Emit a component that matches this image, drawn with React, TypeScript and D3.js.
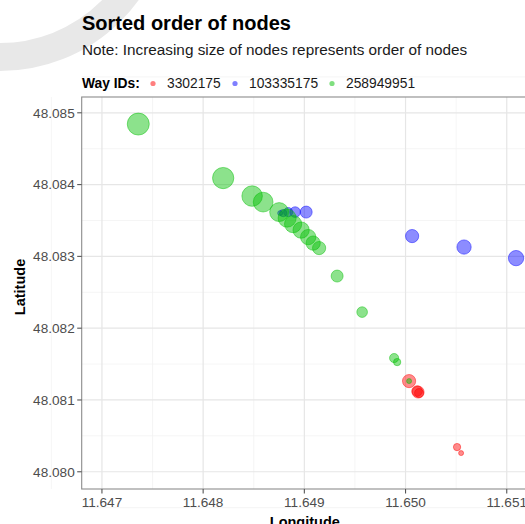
import * as d3 from 'd3';

// way ids and point colours
const wayIds = ['3302175', '103335175', '258949951'];
const wayColors = ['#ff0000', '#0000ff', '#00bf00'];

// nodes of each way, listed in sorted order (size = position in list)
const redLon = [11.650549, 11.650509, 11.650134, 11.650114, 11.650124, 11.650035];
const redLat = [48.08026, 48.080344, 48.081096, 48.081124, 48.08111, 48.081263];

const blueLon = [11.648761, 11.648791, 11.64884, 11.648909, 11.649018, 11.650065, 11.650578, 11.651092];
const blueLat = [48.083603, 48.083603, 48.083617, 48.083617, 48.083617, 48.083283, 48.08313, 48.082976];

const greenLon = [
  11.650035, 11.649917, 11.649887, 11.649571, 11.649324, 11.649146, 11.649087, 11.649038,
  11.648968, 11.648889, 11.64883, 11.648751, 11.648593, 11.648484, 11.648198, 11.647359,
];
const greenLat = [
  48.081263, 48.081528, 48.081584, 48.082224, 48.082726, 48.083116, 48.083185, 48.083269,
  48.083366, 48.08345, 48.083533, 48.083617, 48.083756, 48.08384, 48.084091, 48.084843,
];

const xTicks = [11.647, 11.648, 11.649, 11.65, 11.651];
const xMinor = [11.6465, 11.6475, 11.6485, 11.6495, 11.6505, 11.6515];
const yTicks = [48.08, 48.081, 48.082, 48.083, 48.084, 48.085];
const yMinor = [48.0795, 48.0805, 48.0815, 48.0825, 48.0835, 48.0845, 48.0855];

const width = 525;
const height = 524;
const panel = { left: 81.7, top: 97, right: 528, bottom: 489 };

const font = '"Liberation Sans", Arial, Helvetica, sans-serif';

export default function App() {
  const x = d3.scaleLinear().domain([11.6468, 11.65121]).range([panel.left, panel.right]);
  const y = d3.scaleLinear().domain([48.07976, 48.08522]).range([panel.bottom, panel.top]);
  const size = d3.scaleSqrt().domain([1, 16]).range([2.5, 11]);

  const ways = [
    { lon: redLon, lat: redLat },
    { lon: blueLon, lat: blueLat },
    { lon: greenLon, lat: greenLat },
  ];

  const points = ways.flatMap((w, wi) =>
    w.lon.map((lon, i) => ({ lon, lat: w.lat[i], order: i + 1, way: wi }))
  );

  const fmtX = d3.format('.3f');
  const legendX = [153, 235, 332];
  const legendLabelX = [167, 249, 346];

  return (
    <svg
      width={width}
      height={height}
      style={{ position: 'absolute', left: 0, top: 0, background: '#fff', fontFamily: font }}
    >
      {/* faint watermark arc */}
      <circle cx={0} cy={-100} r={157} fill="none" stroke="#e8e8e8" strokeWidth={28} />

      <text x={82} y={30} fontSize={20} fontWeight="bold" fill="#000">
        Sorted order of nodes
      </text>
      <text x={82} y={55} fontSize={15.3} fill="#1a1a1a">
        Note: Increasing size of nodes represents order of nodes
      </text>

      {/* legend */}
      <text x={82} y={88} fontSize={13.8} fontWeight="bold" fill="#000">
        Way IDs:
      </text>
      {wayIds.map((id, i) => (
        <g key={id}>
          <circle cx={legendX[i]} cy={83.5} r={2.6} fill={wayColors[i]} fillOpacity={0.5} />
          <text x={legendLabelX[i]} y={88} fontSize={13.8} fill="#1a1a1a">
            {id}
          </text>
        </g>
      ))}

      <defs>
        <clipPath id="panel-clip">
          <rect x={panel.left} y={panel.top} width={panel.right - panel.left} height={panel.bottom - panel.top} />
        </clipPath>
      </defs>

      {/* grid */}
      <g>
        {xMinor.map((t) => (
          <line key={'xm' + t} x1={x(t)} x2={x(t)} y1={panel.top} y2={panel.bottom} stroke="#f2f2f2" strokeWidth={0.8} />
        ))}
        {yMinor.map((t) => (
          <line key={'ym' + t} y1={y(t)} y2={y(t)} x1={panel.left} x2={panel.right} stroke="#f2f2f2" strokeWidth={0.8} />
        ))}
        {xTicks.map((t) => (
          <line key={'x' + t} x1={x(t)} x2={x(t)} y1={panel.top} y2={panel.bottom} stroke="#e6e6e6" strokeWidth={1.2} />
        ))}
        {yTicks.map((t) => (
          <line key={'y' + t} y1={y(t)} y2={y(t)} x1={panel.left} x2={panel.right} stroke="#e6e6e6" strokeWidth={1.2} />
        ))}
      </g>

      {/* points */}
      <g clipPath="url(#panel-clip)">
        {points.map((p, i) => (
          <circle
            key={i}
            cx={x(p.lon)}
            cy={y(p.lat)}
            r={size(p.order)}
            fill={wayColors[p.way]}
            fillOpacity={0.45}
            stroke={wayColors[p.way]}
            strokeOpacity={0.45}
            strokeWidth={1}
          />
        ))}
      </g>

      {/* panel border */}
      <rect
        x={panel.left}
        y={panel.top}
        width={panel.right - panel.left}
        height={panel.bottom - panel.top}
        fill="none"
        stroke="#8c8c8c"
        strokeWidth={1.1}
      />

      {/* axes */}
      <g>
        {xTicks.map((t) => (
          <g key={'xt' + t}>
            <line x1={x(t)} x2={x(t)} y1={panel.bottom} y2={panel.bottom + 4.5} stroke="#555" strokeWidth={1.1} />
            <text x={x(t)} y={507} fontSize={13.6} textAnchor="middle" fill="#4d4d4d">
              {fmtX(t)}
            </text>
          </g>
        ))}
        {yTicks.map((t) => (
          <g key={'yt' + t}>
            <line x1={panel.left - 4.5} x2={panel.left} y1={y(t)} y2={y(t)} stroke="#555" strokeWidth={1.1} />
            <text x={panel.left - 7} y={y(t)} dy="0.36em" fontSize={13.6} textAnchor="end" fill="#4d4d4d">
              {fmtX(t)}
            </text>
          </g>
        ))}
      </g>

      <text x={(panel.left + panel.right) / 2} y={527} fontSize={14.5} fontWeight="bold" textAnchor="middle" fill="#000">
        Longitude
      </text>
      <text
        transform={`translate(25,${(panel.top + panel.bottom) / 2 - 6}) rotate(-90)`}
        fontSize={14.5}
        fontWeight="bold"
        textAnchor="middle"
        fill="#000"
      >
        Latitude
      </text>
    </svg>
  );
}
